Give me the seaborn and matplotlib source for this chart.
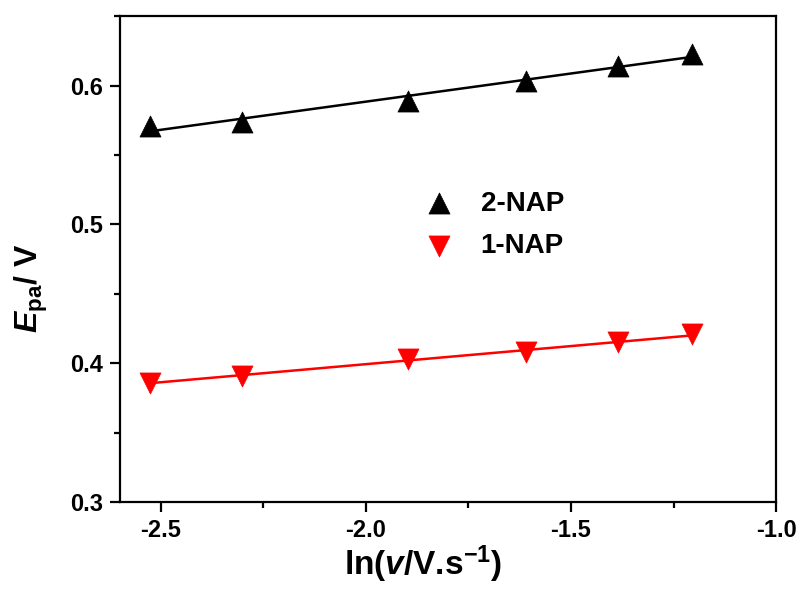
import matplotlib
matplotlib.use('Agg')
import matplotlib.pyplot as plt
import seaborn as sns
import pandas as pd
from matplotlib.ticker import MultipleLocator

# ln(v / V s^-1) for the scan rates
ln_v = [-2.526, -2.303, -1.897, -1.609, -1.386, -1.204]
# anodic peak potentials (V)
epa_2nap = [0.571, 0.574, 0.589, 0.603, 0.614, 0.623]
epa_1nap = [0.386, 0.391, 0.403, 0.408, 0.415, 0.421]

df = pd.DataFrame({'lnv': ln_v * 2,
                   'epa': epa_2nap + epa_1nap,
                   'compound': ['2-NAP'] * 6 + ['1-NAP'] * 6})

sns.set_style('ticks')
plt.rcParams['font.family'] = ['Liberation Sans', 'DejaVu Sans']
plt.rcParams['font.weight'] = 'bold'
plt.rcParams['axes.unicode_minus'] = False
plt.rcParams['mathtext.fontset'] = 'custom'
plt.rcParams['mathtext.rm'] = 'Liberation Sans:bold'
plt.rcParams['mathtext.it'] = 'Liberation Sans:bold:italic'
plt.rcParams['mathtext.bf'] = 'Liberation Sans:bold'
for k in ['axes.edgecolor', 'xtick.color', 'ytick.color', 'text.color', 'axes.labelcolor']:
    plt.rcParams[k] = 'black'

fig = plt.figure(figsize=(8.05, 5.97), dpi=100)
ax = fig.add_axes([0.149, 0.159, 0.815, 0.814])

colors = {'2-NAP': 'black', '1-NAP': '#ff0000'}
markers = {'2-NAP': '^', '1-NAP': 'v'}

for name in ['2-NAP', '1-NAP']:
    sub = df[df.compound == name]
    sns.regplot(data=sub, x='lnv', y='epa', ax=ax, scatter=False, ci=None,
                color=colors[name], line_kws=dict(lw=1.8))
    sns.scatterplot(data=sub, x='lnv', y='epa', ax=ax, color=colors[name],
                    marker=markers[name], s=230, edgecolor=colors[name],
                    linewidth=0.5, label=name, zorder=3)

ax.set_xlim(-2.6, -1.0)
ax.set_ylim(0.3, 0.65)
ax.xaxis.set_major_locator(MultipleLocator(0.5))
ax.xaxis.set_minor_locator(MultipleLocator(0.25))
ax.yaxis.set_major_locator(MultipleLocator(0.1))
ax.yaxis.set_minor_locator(MultipleLocator(0.05))
ax.tick_params(which='major', length=7, width=1.6, labelsize=17, pad=5)
ax.tick_params(which='minor', length=4, width=1.6)
for sp in ax.spines.values():
    sp.set_linewidth(1.6)
    sp.set_visible(True)

ax.set_xlabel(r'ln($\it{v}$/V.s$^{\rm{-1}}$)', fontsize=24, fontweight='bold')
ax.xaxis.set_label_coords(0.462, -0.085)
ax.set_ylabel(r'$\it{E}_{\rm{pa}}$/ V', fontsize=23, fontweight='bold')
ax.yaxis.set_label_coords(-0.106, 0.44)

ax.legend(loc='center left', bbox_to_anchor=(0.427, 0.57), frameon=False,
          handlelength=1.0, handletextpad=1.0, labelspacing=0.6,
          prop={'weight': 'bold', 'size': 20})

fig.savefig('out.png', dpi=100)
